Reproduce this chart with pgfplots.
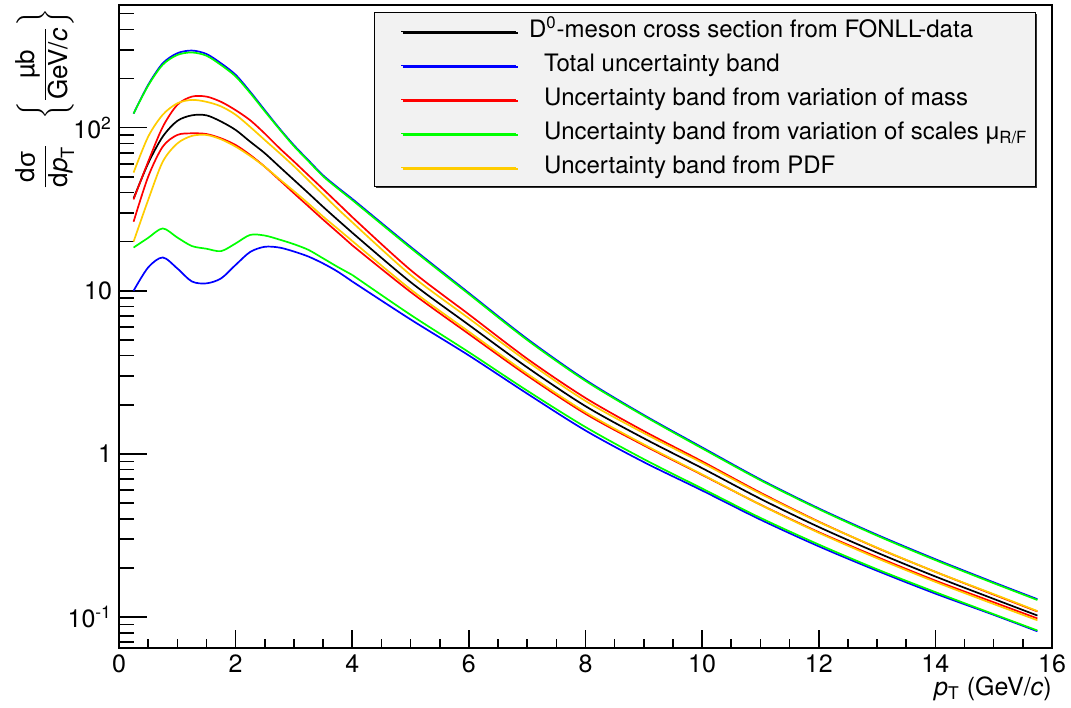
\documentclass[border=0pt]{standalone}
\usepackage{amsmath}
\usepackage{fontspec}
\setmainfont{TeX Gyre Heros}
\newfontfamily\grk{Liberation Sans}
\usepackage{pgfplots}
\usepackage{pgfplotstable}
\pgfplotsset{compat=1.18}
\usetikzlibrary{shadows}
\definecolor{rblue}{RGB}{0,0,255}
\definecolor{rred}{RGB}{255,0,0}
\definecolor{rgreen}{RGB}{0,255,0}
\definecolor{ryellow}{RGB}{255,204,0}
\definecolor{legfill}{RGB}{242,242,242}

% low-pT part (0.25 GeV/c steps)
\pgfplotstableread{
pt    bk     bt     gt     ru     yu     yl     rl     gl     bl
0.25  36.8   122    122    36.3   53     20     26.5   18.4   10
0.5   60.4   183    181    61.8   88     36     50     21.1   13.9
0.75  88.1   248    243    101    120    61.8   76.5   24.1   16
1.0   110    286    279    138    141    80     90.2   21.2   13.7
1.25  119    297    289    155    148    89     92.3   18.8   11.4
1.5   119    283    276    155    144    90.2   91.4   18.1   11.1
1.75  109    248    242    144    135    84.8   86     17.5   11.9
2.0   96.8   211    206    128    120    76.5   78.3   19.5   14.4
2.25  82     166    163    111    101    67     68     22     17.3
2.5   69.7   128    126    92     84     57.6   57.6   21.8   18.6
2.75  57.7   99     98     75     70     48.4   47.8   20.6   18.4
3.0   47.8   78     77     62     58     40.8   39.6   19.3   17.4
3.25  39.6   63     62.2   51     47.5   34.2   32.9   17.8   16.2
3.5   32.7   51     50.3   42     38.9   28.5   27.3   15.8   14.7
3.75  27.2   43     42.4   34.5   31.8   24.0   22.8   14     13.1
4.0   22.7   36.6   36.0   28.3   26.3   20.2   19.0   12.5   11.4
}\lowdata
% high-pT part (1 GeV/c steps)
\pgfplotstableread{
pt    bk     bt     gt     ru     yu     yl     rl     gl     bl
4.0   22.7   36.6   36.0   28.3   26.3   20.2   19.0   12.5   11.4
5     11.3   18.6   18.3   13.4   12.5   10.2   9.83   7.12   6.67
6     6.17   9.69   9.54   7.16   6.77   5.61   5.43   4.20   4.01
7     3.39   5.07   4.99   3.83   3.69   3.10   3.02   2.44   2.34
8     1.96   2.84   2.80   2.20   2.11   1.80   1.76   1.46   1.39
9     1.245  1.73   1.71   1.38   1.34   1.143  1.127  0.928  0.890
10    0.817  1.095  1.08   0.899  0.881  0.748  0.743  0.613  0.596
11    0.530  0.697  0.689  0.578  0.570  0.487  0.488  0.405  0.395
12    0.356  0.463  0.458  0.384  0.382  0.328  0.331  0.278  0.271
13    0.248  0.319  0.315  0.265  0.266  0.229  0.233  0.196  0.192
14    0.177  0.226  0.223  0.189  0.189  0.164  0.167  0.142  0.139
15    0.129  0.163  0.161  0.137  0.138  0.120  0.123  0.104  0.103
15.75 0.102  0.1285 0.127  0.108  0.1086 0.0954 0.0979 0.0826 0.0816
}\highdata

\begin{document}
\begin{tikzpicture}
\useasboundingbox (-59.5bp,-30bp) rectangle (476bp,324bp);
\begin{axis}[
  at={(0,0)}, anchor=south west,
  width=466.5bp, height=321.5bp, scale only axis,
  xmin=0, xmax=16,
  ymode=log, ymin=0.0645, ymax=565,
  xtick=\empty,
  ytick={0.1,1,10,100},
  yticklabels={10\textsuperscript{-1},1,10,10\textsuperscript{2}},
  minor ytick={0.07,0.08,0.09,0.2,0.3,0.4,0.5,0.6,0.7,0.8,0.9,2,3,4,5,6,7,8,9,20,30,40,50,60,70,80,90,200,300,400,500},
  ytick pos=left, tick align=inside,
  major tick length=14bp, minor tick length=7.5bp,
  tick style={black, line width=0.8bp},
  axis line style={line width=0.8bp},
  yticklabel style={font=\fontsize{12.5bp}{14bp}\selectfont},
  every axis plot/.append style={line width=0.85bp, smooth},
  legend cell align=left,
  legend image code/.code={\path (0bp,0bp); \draw[#1, line width=0.7bp] (9bp,0bp) -- (66.5bp,0bp);},
  legend style={at={(0.2733,0.989)}, anchor=north west, draw=black, line width=0.5bp,
    fill=legfill, drop shadow={shadow xshift=0.8bp, shadow yshift=-0.8bp, opacity=1, fill=black!80},
    font=\fontsize{12bp}{14bp}\selectfont,
    inner xsep=4bp, inner ysep=3.5bp, row sep=5bp,
    nodes={inner sep=0pt, text height=9bp, text depth=3bp},
    /tikz/every odd column/.append style={column sep=13.5bp}},
]
\addplot[black] table[x=pt, y=bk] {\lowdata};
\addlegendentry{\hspace*{-7.5bp}D\textsuperscript{0}-meson cross section from FONLL-data}
\addplot[rblue] table[x=pt, y=bt] {\lowdata};
\addlegendentry{Total uncertainty band}
\addplot[rred] table[x=pt, y=ru] {\lowdata};
\addlegendentry{Uncertainty band from variation of mass}
\addplot[rgreen] table[x=pt, y=gt] {\lowdata};
\addlegendentry{Uncertainty band from variation of scales {\grk μ}\textsubscript{R/F}}
\addplot[ryellow] table[x=pt, y=yu] {\lowdata};
\addlegendentry{Uncertainty band from PDF}
\addplot[black, forget plot] table[x=pt, y=bk] {\highdata};
\addplot[rblue, forget plot] table[x=pt, y=bt] {\highdata};
\addplot[rred, forget plot] table[x=pt, y=ru] {\highdata};
\addplot[rgreen, forget plot] table[x=pt, y=gt] {\highdata};
\addplot[ryellow, forget plot] table[x=pt, y=yu] {\highdata};
\addplot[rblue, forget plot] table[x=pt, y=bl] {\lowdata};
\addplot[rblue, forget plot] table[x=pt, y=bl] {\highdata};
\addplot[rred, forget plot] table[x=pt, y=rl] {\lowdata};
\addplot[rred, forget plot] table[x=pt, y=rl] {\highdata};
\addplot[rgreen, forget plot] table[x=pt, y=gl] {\lowdata};
\addplot[rgreen, forget plot] table[x=pt, y=gl] {\highdata};
\addplot[ryellow, forget plot] table[x=pt, y=yl] {\lowdata};
\addplot[ryellow, forget plot] table[x=pt, y=yl] {\highdata};
\end{axis}
\begin{axis}[
  at={(0,0)}, anchor=south west,
  width=466.5bp, height=321.5bp, scale only axis,
  xmin=0, xmax=16, ymin=0, ymax=1,
  xtick={0,2,4,6,8,10,12,14,16},
  xticklabels={0,2,4,6,8,10,12,14,16},
  minor x tick num=3,
  ytick=\empty,
  xtick pos=bottom, tick align=inside,
  major tick length=9bp, minor tick length=4.5bp,
  tick style={black, line width=0.8bp},
  axis line style={line width=0.8bp},
  xticklabel style={font=\fontsize{12.5bp}{14bp}\selectfont},
]
\end{axis}
\node[rotate=90, anchor=east, inner sep=0pt, font=\fontsize{13bp}{15bp}\selectfont]
  at (-37bp,320bp)
  {$\dfrac{\text{d{\grk σ}}}{\text{d\textit{p}}_{\text{T}}}\hspace{12bp}\biggl\{\dfrac{\text{µb}}{\text{GeV/\textit{c}}}\biggr\}$};
\node[anchor=base east, inner sep=0pt, font=\fontsize{12.5bp}{14bp}\selectfont]
  at (466.5bp,-23.5bp) {\textit{p}\textsubscript{T} (GeV/\textit{c})};
\end{tikzpicture}
\end{document}
